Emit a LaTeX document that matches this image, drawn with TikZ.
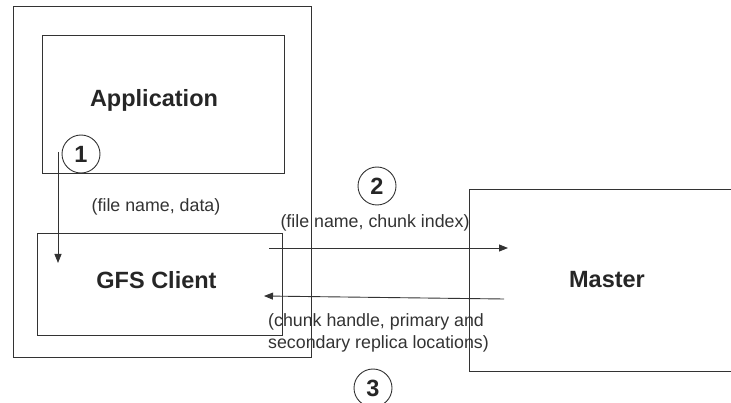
\documentclass[tikz,border=0pt]{standalone}
\usepackage{fontspec}
\setmainfont{Liberation Sans}
\usetikzlibrary{arrows.meta}
\begin{document}
\begin{tikzpicture}[x=1pt,y=-1pt,
  ink/.style={draw=black!80, line width=0.9pt},
  block/.style={ink, rectangle, inner sep=0pt},
  title/.style={text=black!85, font=\fontsize{23.5}{28}\selectfont\bfseries, inner sep=0pt},
  note/.style={text=black!80, font=\fontsize{17.8}{22}\selectfont, inner sep=0pt},
  step marker/.style={ink, circle, minimum size=38pt, inner sep=0pt,
    text=black!85, font=\fontsize{23.5}{28}\selectfont\bfseries},
  flow/.style={ink, -{Triangle[length=9pt,width=7pt]}}]
  \clip (0,0) rectangle (731,403);
  \useasboundingbox (0,0) rectangle (731,403);

  % client machine with the application and the GFS client library
  \node[block, minimum width=298pt, minimum height=351pt] (host) at (162,181.5) {};
  \node[block, minimum width=242pt, minimum height=138pt] (app) at (163,104) {};
  \node[title] (apptext) at (154,100) {Application};
  \node[block, minimum width=245pt, minimum height=102pt] (client) at (159.5,284) {};
  \node[title] (clienttext) at (156.5,280) {GFS Client};

  % master server, running off the right edge
  \node[block, minimum width=291pt, minimum height=182pt] (master) at (614.5,280) {};
  \node[title] (mastertext) at (607,280) {Master};

  % numbered steps
  \node[step marker] (s1) at (81,154) {1};
  \node[step marker] (s2) at (377,186) {2};
  \node[step marker] (s3) at (373,388) {3};

  % messages
  \node[note] (m1) at (156,207) {(file name, data)};
  \node[note] (m2) at (375,223) {(file name, chunk index)};
  \node[note, anchor=north west, align=left] (m3) at (268,313)
    {(chunk handle, primary and\\secondary replica locations)};

  % arrow end points
  \coordinate (a1s) at (58,152);
  \coordinate (a1e) at (58,263);
  \coordinate (a2s) at (269,248);
  \coordinate (a2e) at (508,248);
  \coordinate (a3s) at (504,299);
  \coordinate (a3e) at (264,296);

  \draw[flow] (a1s) -- (a1e);
  \draw[flow] (a2s) -- (a2e);
  \draw[flow] (a3s) -- (a3e);
\end{tikzpicture}
\end{document}
